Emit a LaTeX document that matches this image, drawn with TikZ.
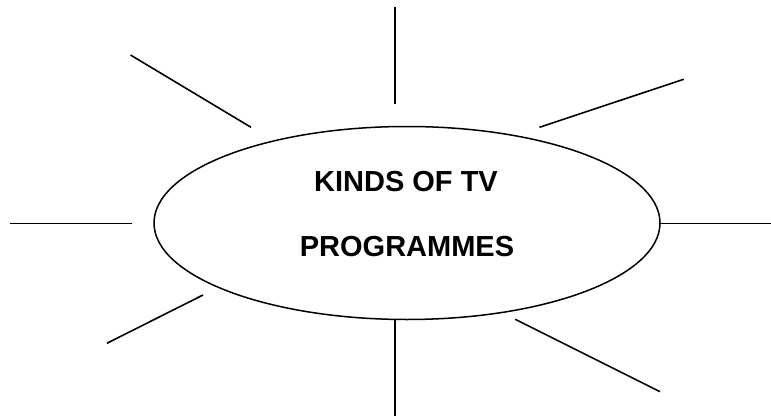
\documentclass[tikz,border=0pt]{standalone}
\usepackage{fontspec}
\setmainfont{Liberation Sans}
\usetikzlibrary{shapes.geometric}
\begin{document}
\begin{tikzpicture}[x=1pt,y=1pt,
  ray/.style={draw=black,line width=1.6pt},
  hub/.style={draw=black,line width=1.5pt,ellipse,minimum width=506pt,minimum height=193pt,inner sep=0pt},
  label/.style={inner sep=0pt,font=\fontsize{29}{34}\selectfont\bfseries}]
\fill[white] (0,0) rectangle (771,416);
\useasboundingbox (0,0) rectangle (771,416);
\node[hub] (hub) at (407,193) {};
\node[label] (t1) at (406,234) {KINDS OF TV};
\node[label] (t2) at (407,169) {PROGRAMMES};
% ray end points
\coordinate (n1) at (395,409.3); \coordinate (n2) at (395,312);
\coordinate (nw1) at (130.5,361); \coordinate (nw2) at (251,288.7);
\coordinate (ne1) at (539.4,288.7); \coordinate (ne2) at (683.7,336.7);
\coordinate (w1) at (9.9,192.7); \coordinate (w2) at (131.5,192.7);
\coordinate (e1) at (660,192.7); \coordinate (e2) at (771,192.7);
\coordinate (sw1) at (203,121); \coordinate (sw2) at (106.9,72.7);
\coordinate (s1) at (395,96.7); \coordinate (s2) at (395,0);
\coordinate (se1) at (515.3,96.7); \coordinate (se2) at (660,24.3);
\draw[ray] (n1) -- (n2);
\draw[ray] (nw1) -- (nw2);
\draw[ray] (ne1) -- (ne2);
\draw[ray] (w1) -- (w2);
\draw[ray] (e1) -- (e2);
\draw[ray] (sw1) -- (sw2);
\draw[ray] (s1) -- (s2);
\draw[ray] (se1) -- (se2);
\end{tikzpicture}
\end{document}
